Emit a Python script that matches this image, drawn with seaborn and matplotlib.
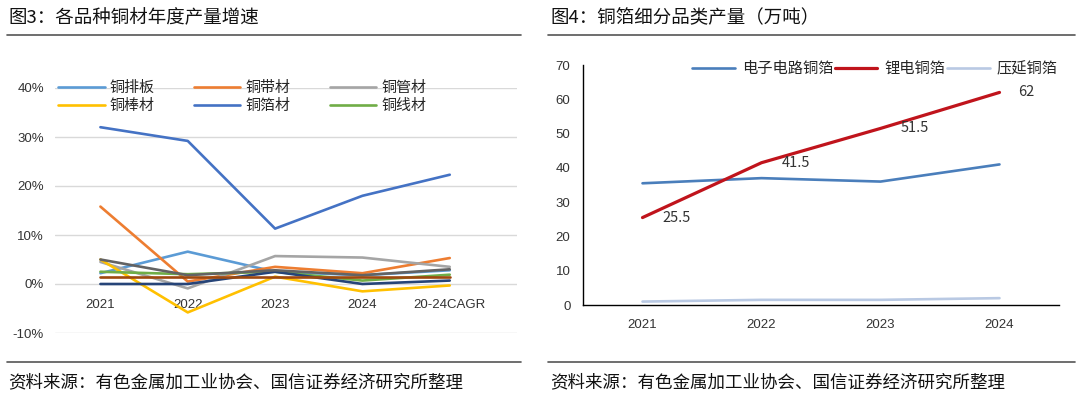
import numpy as np
import pandas as pd
import matplotlib
matplotlib.use("Agg")
import matplotlib.pyplot as plt
import seaborn as sns
from matplotlib.lines import Line2D

sns.set_theme(style="white")
plt.rcParams['font.family'] = ['Noto Sans CJK SC', 'DejaVu Sans']
plt.rcParams['axes.unicode_minus'] = False
TICKFONT = ['Liberation Sans', 'Noto Sans CJK SC']

# ---- 图3 data (%)
years3 = ['2021', '2022', '2023', '2024', '20-24CAGR']
paiban = [2.2, 6.6, 2.5, 1.8, 2.8]
daicai = [15.8, 0.5, 3.5, 2.2, 5.3]
guancai = [4.5, -0.9, 5.7, 5.4, 3.5]
bangcai = [5.0, -5.8, 1.5, -1.5, -0.3]
bocai = [32.0, 29.2, 11.3, 18.0, 22.3]
xiancai = [2.5, 2.0, 2.5, 0.7, 1.9]
other_gray = [5.0, 1.8, 2.8, 1.8, 3.0]
other_brown = [1.5, 1.5, 1.5, 1.5, 1.5]
other_navy = [0.0, 0.0, 2.5, 0.0, 0.7]

names3 = ['铜排板', '铜带材', '铜管材', '铜棒材', '铜箔材', '铜线材']
colors3 = ['#5B9BD5', '#ED7D31', '#A5A5A5', '#FFC000', '#4472C4', '#70AD47']

# ---- 图4 data (万吨)
years4 = ['2021', '2022', '2023', '2024']
dianzi = [35.5, 37.0, 36.0, 41.0]
lidian = [25.5, 41.5, 51.5, 62.0]
yayan = [1.0, 1.5, 1.5, 2.0]
names4 = ['电子电路铜箔', '锂电铜箔', '压延铜箔']
colors4 = ['#4A7EBB', '#C0141C', '#B9C9E3']

W, H = 1080, 399
fig = plt.figure(figsize=(W / 100, H / 100), dpi=100)

def px(x0, y0, x1, y1):
    return [x0 / W, 1 - y1 / H, (x1 - x0) / W, (y1 - y0) / H]

# ---------- left chart
ax1 = fig.add_axes(px(55, 88, 517, 333))
series3 = [paiban, daicai, guancai, bangcai, bocai, xiancai]
for name, vals, c in zip(names3, series3, colors3):
    sns.lineplot(x=years3, y=vals, ax=ax1, color=c, lw=1.9, label=name, sort=False)
for vals, c in [(other_navy, '#264478'), (other_gray, '#636363'), (other_brown, '#9E480E')]:
    sns.lineplot(x=years3, y=vals, ax=ax1, color=c, lw=1.9, label='_nolegend_', sort=False)

ax1.set_ylim(-10, 40)
ax1.set_xlim(-0.52, 4.77)
ax1.set_yticks([-10, 0, 10, 20, 30, 40])
ax1.set_yticklabels(['-10%', '0%', '10%', '20%', '30%', '40%'])
ax1.grid(axis='y', color='#D9D9D9', lw=1)
ax1.set_axisbelow(True)
for s in ax1.spines.values():
    s.set_visible(False)
ax1.spines['bottom'].set_position(('data', 0))
ax1.tick_params(axis='both', length=0, pad=8)
ax1.tick_params(axis='x', pad=11)
for t in ax1.get_xticklabels() + ax1.get_yticklabels():
    t.set_fontfamily(TICKFONT)
    t.set_fontsize(9.5)
    t.set_color('#333333')
ax1.set_xlabel('')
ax1.set_ylabel('')
h, l = ax1.get_legend_handles_labels()
order = [0, 3, 1, 4, 2, 5]
ax1.legend([h[i] for i in order], [l[i] for i in order], ncol=3, frameon=False,
           loc='upper left', bbox_to_anchor=(58 / W, 1 - 81 / H), bbox_transform=fig.transFigure,
           borderaxespad=0, borderpad=0, fontsize=10.8,
           handlelength=3.1, columnspacing=2.6, labelspacing=0.25, handletextpad=0.35)

# ---------- right chart
ax2 = fig.add_axes(px(583, 65, 1059, 305))
for name, vals, c in zip(names4, [dianzi, lidian, yayan], colors4):
    sns.lineplot(x=years4, y=vals, ax=ax2, color=c, lw=1.9 if c != '#C0141C' else 2.3,
                 label=name, sort=False)
for i, v in enumerate(lidian):
    ax2.annotate(f'{v:g}', (i, v), xytext=(27 if i == 3 else 34, 0),
                 textcoords='offset pixels', va='center', ha='center',
                 fontsize=10.5, color='#333333')
ax2.set_xlim(-0.5, 3.5)
ax2.set_ylim(0, 70)
ax2.set_yticks(range(0, 71, 10))
ax2.set_xticks([-0.5, 0.5, 1.5, 2.5, 3.5])
ax2.set_xticklabels([])
ax2.set_xticks(range(len(years4)), minor=True)
ax2.set_xticklabels(years4, minor=True)
ax2.tick_params(axis='x', which='major', length=5, width=1, direction='out', color='black')
ax2.tick_params(axis='x', which='minor', length=0, pad=10)
ax2.tick_params(axis='y', length=5, width=1, direction='out', color='black', pad=4)
for t in ax2.get_xticklabels(minor=True) + ax2.get_yticklabels():
    t.set_fontfamily(TICKFONT)
    t.set_fontsize(9.5)
    t.set_color('#333333')
for s in ['top', 'right']:
    ax2.spines[s].set_visible(False)
for s in ['left', 'bottom']:
    ax2.spines[s].set_color('black')
    ax2.spines[s].set_linewidth(1)
ax2.set_xlabel('')
ax2.set_ylabel('')
ax2.legend(ncol=3, frameon=False, loc='upper left',
           bbox_to_anchor=(692 / W, 1 - 60 / H), bbox_transform=fig.transFigure,
           borderaxespad=0, borderpad=0, fontsize=11,
           handlelength=2.8, columnspacing=0.1, handletextpad=0.45)

# ---------- titles, rules, sources
fig.text(8 / W, 1 - 18 / H, '图3：各品种铜材年度产量增速', fontsize=13.3, va='center', color='#111111')
fig.text(550 / W, 1 - 18 / H, '图4：铜箔细分品类产量（万吨）', fontsize=13.3, va='center', color='#111111')
for x0, x1 in [(7, 521), (548, 1075)]:
    fig.add_artist(Line2D([x0 / W, x1 / W], [1 - 35 / H] * 2, color='#555555', lw=1.2))
    fig.add_artist(Line2D([x0 / W, x1 / W], [1 - 362 / H] * 2, color='#555555', lw=1.2))
src = '资料来源：有色金属加工业协会、国信证券经济研究所整理'
fig.text(8 / W, 1 - 382 / H, src, fontsize=12.6, va='center', color='#111111')
fig.text(550 / W, 1 - 382 / H, src, fontsize=12.6, va='center', color='#111111')

fig.savefig('out.png', dpi=100)
